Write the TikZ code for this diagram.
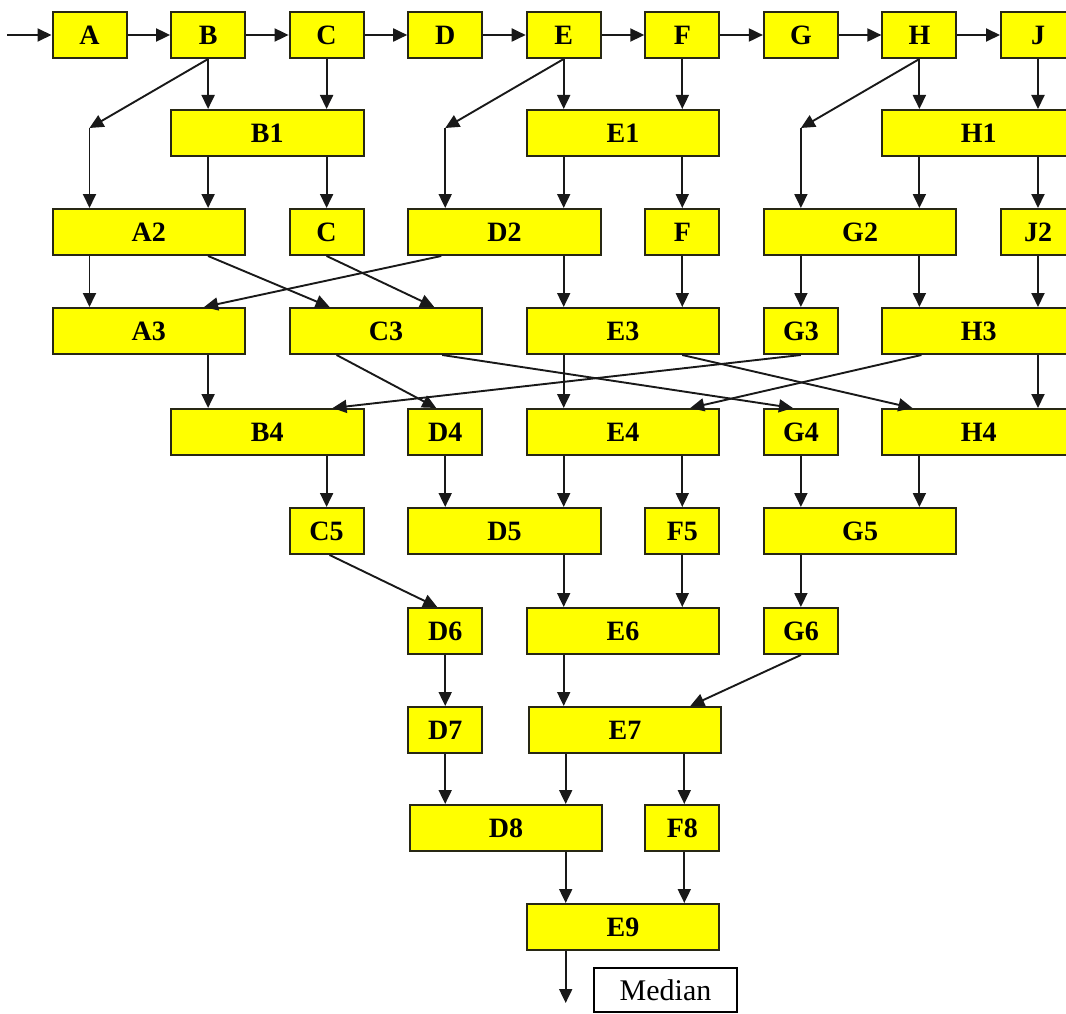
\documentclass[tikz,border=0pt]{standalone}
\usepackage{fontspec}
\setmainfont{Liberation Serif}
\usetikzlibrary{arrows.meta}
\definecolor{boxfill}{RGB}{255,255,0}
\definecolor{boxline}{RGB}{40,40,20}
\definecolor{arrline}{RGB}{25,25,25}
\begin{document}
\begin{tikzpicture}[x=1pt,y=-1pt,
  box/.style={draw=boxline, fill=boxfill, line width=2pt, minimum width=74pt, minimum height=46pt, inner sep=0pt, font=\fontsize{28}{28}\selectfont\bfseries},
  wide/.style={box, minimum width=192.5pt},
  arr/.style={draw=arrline, line width=1.9pt, -{Triangle[length=14pt,width=13pt]}},
  medbox/.style={draw=black, fill=white, line width=1.3pt, minimum width=143pt, minimum height=44pt, inner sep=0pt, font=\fontsize{30}{30}\selectfont}
]
\useasboundingbox (0,0) rectangle (1066,1014);
% column x positions
\coordinate (cA) at (89.5,0);
\coordinate (cB) at (208.1,0);
\coordinate (cC) at (326.6,0);
\coordinate (cD) at (445.2,0);
\coordinate (cE) at (563.7,0);
\coordinate (cF) at (682.3,0);
\coordinate (cG) at (800.9,0);
\coordinate (cH) at (919.4,0);
\coordinate (cJ) at (1038.0,0);
% midpoints for wide boxes
\def\mAB{148.8}\def\mBC{267.3}\def\mCD{385.9}\def\mDE{504.5}\def\mEF{623.0}\def\mFG{741.6}\def\mGH{860.1}\def\mHJ{978.7}
% row 0
\node[box] (A) at (89.5,35) {A};
\node[box] (B) at (208.1,35) {B};
\node[box] (C) at (326.6,35) {C};
\node[box] (D) at (445.2,35) {D};
\node[box] (E) at (563.7,35) {E};
\node[box] (F) at (682.3,35) {F};
\node[box] (G) at (800.9,35) {G};
\node[box] (H) at (919.4,35) {H};
\node[box] (J) at (1038.0,35) {J};
% row 1
\node[wide] (B1) at (\mBC,133) {B1};
\node[wide] (E1) at (\mEF,133) {E1};
\node[wide] (H1) at (\mHJ,133) {H1};
% row 2
\node[wide] (A2) at (\mAB,232) {A2};
\node[box] (C2) at (326.6,232) {C};
\node[wide] (D2) at (\mDE,232) {D2};
\node[box] (F2) at (682.3,232) {F};
\node[wide] (G2) at (\mGH,232) {G2};
\node[box] (J2) at (1038.0,232) {J2};
% row 3
\node[wide] (A3) at (\mAB,331) {A3};
\node[wide] (C3) at (\mCD,331) {C3};
\node[wide] (E3) at (\mEF,331) {E3};
\node[box] (G3) at (800.9,331) {G3};
\node[wide] (H3) at (\mHJ,331) {H3};
% row 4
\node[wide] (B4) at (\mBC,432) {B4};
\node[box] (D4) at (445.2,432) {D4};
\node[wide] (E4) at (\mEF,432) {E4};
\node[box] (G4) at (800.9,432) {G4};
\node[wide] (H4) at (\mHJ,432) {H4};
% row 5
\node[box] (C5) at (326.6,531) {C5};
\node[wide] (D5) at (\mDE,531) {D5};
\node[box] (F5) at (682.3,531) {F5};
\node[wide] (G5) at (\mGH,531) {G5};
% row 6
\node[box] (D6) at (445.2,631) {D6};
\node[wide] (E6) at (\mEF,631) {E6};
\node[box] (G6) at (800.9,631) {G6};
% row 7
\node[box] (D7) at (445.2,730) {D7};
\node[wide] (E7) at (625,730) {E7};
% row 8
\node[wide] (D8) at (506,828) {D8};
\node[box] (F8) at (682.3,828) {F8};
% row 9
\node[wide] (E9) at (\mEF,927) {E9};
\node[medbox] (M) at (665.5,990) {Median};
% helper coordinates
\coordinate (in) at (7,35);
\coordinate (kB) at (89.5,128);
\coordinate (kE) at (445.2,128);
\coordinate (kH) at (800.9,128);
\coordinate (out) at (565.7,1003);
% row 0 chain
\draw[arr] (in) -- (A.west);
\draw[arr] (A) -- (B);
\draw[arr] (B) -- (C);
\draw[arr] (C) -- (D);
\draw[arr] (D) -- (E);
\draw[arr] (E) -- (F);
\draw[arr] (F) -- (G);
\draw[arr] (G) -- (H);
\draw[arr] (H) -- (J);
% row 0 -> 1
\draw[arr] (B.south) -- (B1.north -| cB);
\draw[arr] (C.south) -- (B1.north -| cC);
\draw[arr] (E.south) -- (E1.north -| cE);
\draw[arr] (F.south) -- (E1.north -| cF);
\draw[arr] (H.south) -- (H1.north -| cH);
\draw[arr] (J.south) -- (H1.north -| cJ);
\draw[arr] (B.south) -- (kB);
\draw[arr] (E.south) -- (kE);
\draw[arr] (H.south) -- (kH);
% row 1 -> 2
\draw[arr] (kB) -- (A2.north -| cA);
\draw[arr] (B1.south -| cB) -- (A2.north -| cB);
\draw[arr] (B1.south -| cC) -- (C2.north);
\draw[arr] (kE) -- (D2.north -| cD);
\draw[arr] (E1.south -| cE) -- (D2.north -| cE);
\draw[arr] (E1.south -| cF) -- (F2.north);
\draw[arr] (kH) -- (G2.north -| cG);
\draw[arr] (H1.south -| cH) -- (G2.north -| cH);
\draw[arr] (H1.south -| cJ) -- (J2.north);
% row 2 -> 3
\draw[arr] (A2.south -| cA) -- (A3.north -| cA);
\draw[arr] (A2.south -| cB) -- ([xshift=3pt]C3.north -| cC);
\draw[arr] (C2.south) -- ([xshift=-11pt]C3.north -| cD);
\draw[arr] ([xshift=-4pt]D2.south -| cD) -- ([xshift=-4pt]A3.north -| cB);
\draw[arr] (D2.south -| cE) -- (E3.north -| cE);
\draw[arr] (F2.south) -- (E3.north -| cF);
\draw[arr] (G2.south -| cG) -- (G3.north);
\draw[arr] (G2.south -| cH) -- (H3.north -| cH);
\draw[arr] (J2.south) -- (H3.north -| cJ);
% row 3 -> 4
\draw[arr] (A3.south -| cB) -- (B4.north -| cB);
\draw[arr] ([xshift=10pt]C3.south -| cC) -- ([xshift=-9pt]D4.north);
\draw[arr] ([xshift=-3pt]C3.south -| cD) -- ([xshift=-8pt]G4.north);
\draw[arr] (E3.south -| cE) -- (E4.north -| cE);
\draw[arr] (E3.south -| cF) -- ([xshift=-7pt]H4.north -| cH);
\draw[arr] (G3.south) -- ([xshift=6pt]B4.north -| cC);
\draw[arr] ([xshift=2pt]H3.south -| cH) -- ([xshift=8pt]E4.north -| cF);
\draw[arr] (H3.south -| cJ) -- (H4.north -| cJ);
% row 4 -> 5
\draw[arr] (B4.south -| cC) -- (C5.north);
\draw[arr] (D4.south) -- (D5.north -| cD);
\draw[arr] (E4.south -| cE) -- (D5.north -| cE);
\draw[arr] (E4.south -| cF) -- (F5.north);
\draw[arr] (G4.south) -- (G5.north -| cG);
\draw[arr] (H4.south -| cH) -- (G5.north -| cH);
% row 5 -> 6
\draw[arr] ([xshift=3pt]C5.south) -- ([xshift=-8pt]D6.north);
\draw[arr] (D5.south -| cE) -- (E6.north -| cE);
\draw[arr] (F5.south) -- (E6.north -| cF);
\draw[arr] (G5.south -| cG) -- (G6.north);
% row 6 -> 7
\draw[arr] (D6.south) -- (D7.north);
\draw[arr] (E6.south -| cE) -- (E7.north -| cE);
\draw[arr] (G6.south) -- ([xshift=8pt]E7.north -| cF);
% row 7 -> 8
\draw[arr] (D7.south) -- (D8.north -| cD);
\draw[arr] ([xshift=2pt]E7.south -| cE) -- ([xshift=2pt]D8.north -| cE);
\draw[arr] ([xshift=2pt]E7.south -| cF) -- ([xshift=2pt]F8.north);
% row 8 -> 9
\draw[arr] ([xshift=2pt]D8.south -| cE) -- ([xshift=2pt]E9.north -| cE);
\draw[arr] ([xshift=2pt]F8.south) -- ([xshift=2pt]E9.north -| cF);
% output
\draw[arr] ([xshift=2pt]E9.south -| cE) -- (out);
\end{tikzpicture}
\end{document}
